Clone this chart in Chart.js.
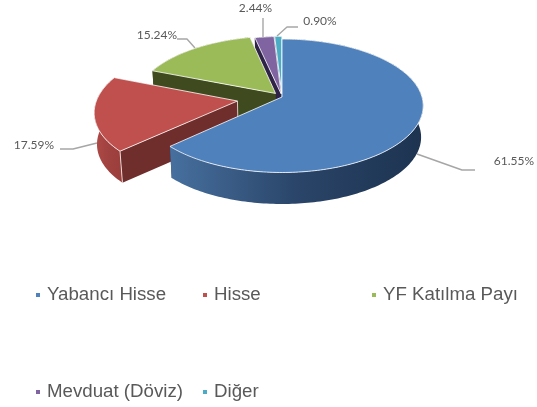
<!DOCTYPE html>
<html><head><meta charset="utf-8">
<style>html,body{margin:0;padding:0;background:#fff}#c{display:block}</style>
<script src="https://cdn.jsdelivr.net/npm/chart.js@4/dist/chart.umd.min.js"></script>
</head><body>
<div style="width:537px;height:407px;position:relative"><canvas id="c" width="537" height="407"></canvas></div>
<script>
const categories = ["Yabancı Hisse","Hisse","YF Katılma Payı","Mevduat (Döviz)","Diğer"];
const values = [61.55,17.59,15.24,2.44,0.90];
const valueLabels = ["61.55%","17.59%","15.24%","2.44%","0.90%"];
const colors = ["#4f81bd","#c0504d","#9bbb59","#8064a2","#4bacc6"];
const explodePx = [0,45,10,7,7];

// presentation settings
const squash = 0.4686, persp = 0.131, depth = 31.5, depthScale = 0.985;
const radialWall = ["#2b4566","#6f2d2b","#3f4a1e","#2f2347","#1f5a6b"];
const rimWall = [["#47709f","#2a4569","#1d3350",0.5],["#b04a47","#a04240","#9a3e3b",0.5],["#3f4a1e","#3f4a1e","#3f4a1e",0.5],["#2f2347","#2f2347","#2f2347",0.5],["#1f5a6b","#1f5a6b","#1f5a6b",0.5]];
const drawOrder = [4,3,2,1,0];
const leaders = [
 [[417,154],[462,170],[475,170]],
 [[97,143],[73,149],[60,149]],
 [[195,48],[187,39],[177,39]],
 [[263,37],[263,18]],
 [[277,36],[287,27],[298,27]]
];
const labelPos = [[514,161.5],[34,145.5],[157,35],[255.5,8.5],[320,21]];
const legendPos = [[36,295],[203,295],[372,295],[36,392],[203,392]];

const pie3d = {
  id:'pie3d',
  beforeDatasetDraw(chart,args){
    const ctx = chart.ctx, meta = chart.getDatasetMeta(0);
    const order = drawOrder;
    order.forEach(i=>{
      const el = meta.data[i];
      const R = el.outerRadius, cx = el.x, cy = el.y;
      const a0 = el.startAngle + Math.PI/2, a1 = el.endAngle + Math.PI/2;
      const mid = (a0+a1)/2, e = (el.options.offset||0)/R;
      const ou = e*Math.sin(mid), ov = -e*Math.cos(mid);
      const P = (u,v,z)=>{
        const U = u+ou, V = v+ov, w = 1 - persp*V;
        const x = U/w*R, y = V/w*R*squash;
        return z ? [cx + x*depthScale, cy + y + depth] : [cx + x, cy + y];
      };
      const rim = z => { const pts=[]; const n=Math.max(8,Math.ceil((a1-a0)/0.02));
        for(let k=0;k<=n;k++){ const t=a0+(a1-a0)*k/n; pts.push(P(Math.sin(t),-Math.cos(t),z)); } return pts; };
      const poly = pts => { ctx.beginPath(); pts.forEach((p,k)=>k?ctx.lineTo(p[0],p[1]):ctx.moveTo(p[0],p[1])); ctx.closePath(); };
      const top = rim(0), bot = rim(1), A0=P(0,0,0), A1=P(0,0,1);
      // radial walls
      ctx.fillStyle = radialWall[i];
      poly([A0,top[top.length-1],bot[bot.length-1],A1]); ctx.fill();
      poly([A0,top[0],bot[0],A1]); ctx.fill();
      // outer wall
      const xs = top.concat(bot).map(p=>p[0]);
      const gx0 = Math.min(...xs), gx1 = Math.max(...xs);
      const g = ctx.createLinearGradient(gx0,0,gx1,0);
      const rw = rimWall[i];
      g.addColorStop(0,rw[0]); g.addColorStop(rw[3],rw[1]); g.addColorStop(1,rw[2]);
      ctx.fillStyle = g;
      poly(top.concat(bot.slice().reverse())); ctx.fill();
      // white seam on the front corner
      ctx.strokeStyle = 'rgba(255,255,255,0.75)'; ctx.lineWidth = 1;
      if(i===1){ ctx.beginPath(); ctx.moveTo(top[0][0],top[0][1]); ctx.lineTo(bot[0][0],bot[0][1]); ctx.stroke();
        ctx.beginPath(); ctx.moveTo(A0[0],A0[1]); ctx.lineTo(A1[0],A1[1]); ctx.stroke(); }
      // top face
      ctx.fillStyle = el.options.backgroundColor;
      poly([A0].concat(top)); ctx.fill();
      ctx.strokeStyle = 'rgba(255,255,255,0.8)'; ctx.lineWidth = 1; ctx.stroke();
    });
    // leader lines
    ctx.strokeStyle = '#a6a6a6'; ctx.lineWidth = 1.4; ctx.lineJoin='round';
    leaders.forEach(l=>{ ctx.beginPath(); l.forEach((p,k)=>k?ctx.lineTo(p[0],p[1]):ctx.moveTo(p[0],p[1])); ctx.stroke(); });
    // data labels
    ctx.font = '12px Lato, Carlito, sans-serif'; ctx.fillStyle='#595959'; ctx.textAlign='center'; ctx.textBaseline='middle';
    valueLabels.forEach((t,i)=>ctx.fillText(t,labelPos[i][0],labelPos[i][1]));
    // legend
    ctx.textAlign='left'; ctx.font = '18.7px "Liberation Sans", Arial, sans-serif';
    chart.data.labels.forEach((t,i)=>{
      const p = legendPos[i];
      ctx.fillStyle = colors[i]; ctx.fillRect(p[0],p[1]-2,4,4);
      ctx.fillStyle = '#595959'; ctx.fillText(t,p[0]+11,p[1]);
    });
    return false;
  }
};

new Chart(document.getElementById('c'),{
  type:'pie',
  data:{labels:categories,datasets:[{data:values,backgroundColor:colors,offset:explodePx,borderWidth:0,radius:140}]},
  options:{
    responsive:false,animation:false,
    layout:{padding:{left:27,right:0,top:0,bottom:213}},
    plugins:{legend:{display:false},tooltip:{enabled:false}}
  },
  plugins:[pie3d]
});
</script>
</body></html>
